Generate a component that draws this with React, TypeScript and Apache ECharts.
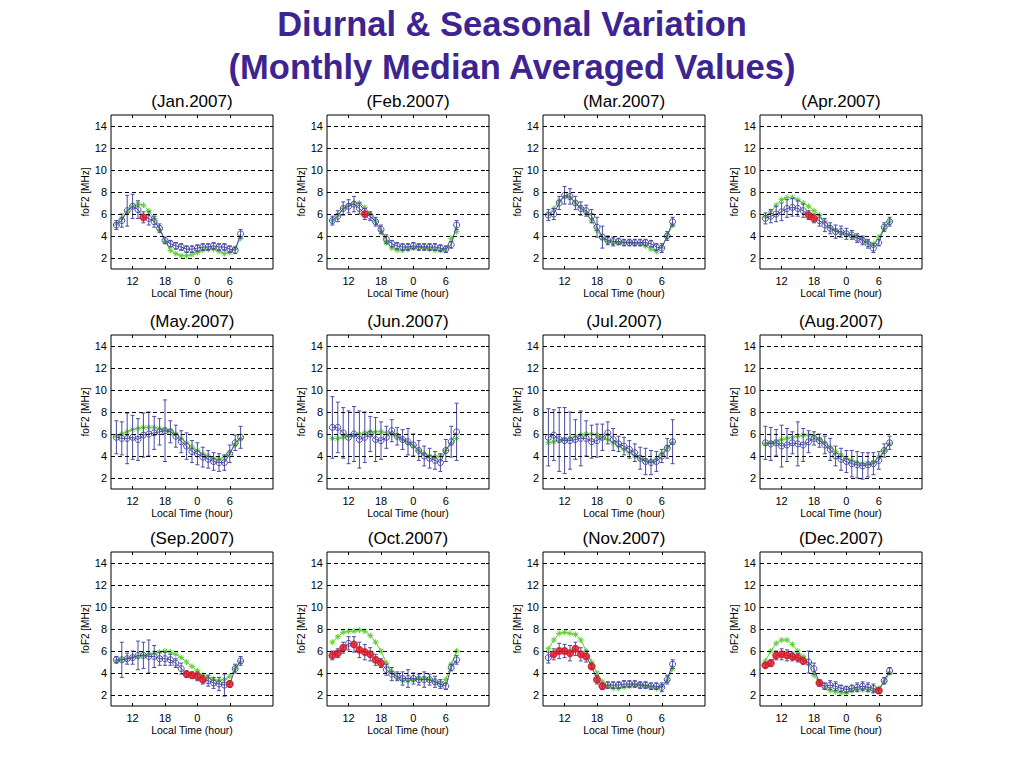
import React, { useEffect, useRef } from "react";
import * as echarts from "echarts";

// Hours (local time, continuing past midnight as 24..32)
const HOURS = [9, 10, 11, 12, 13, 14, 15, 16, 17, 18, 19, 20, 21, 22, 23, 24, 25, 26, 27, 28, 29, 30, 31, 32];
const X_TICKS = [12, 18, 24, 30];
const Y_TICKS = [2, 4, 6, 8, 10, 12, 14];
const MAIN_TITLE_1 = "Diurnal & Seasonal Variation";
const MAIN_TITLE_2 = "(Monthly Median Averaged Values)";
const PANEL_TITLES = [
  "(Jan.2007)", "(Feb.2007)", "(Mar.2007)", "(Apr.2007)",
  "(May.2007)", "(Jun.2007)", "(Jul.2007)", "(Aug.2007)",
  "(Sep.2007)", "(Oct.2007)", "(Nov.2007)", "(Dec.2007)",
];

// Observed monthly medians (foF2, MHz)
const JAN_OBS = [5.0, 5.4, 6.3, 6.7, 6.4, 5.7, 5.6, 5.3, 4.7, 3.6, 3.3, 3.1, 3.0, 2.8, 2.8, 2.9, 3.0, 3.0, 3.1, 3.0, 3.0, 2.8, 2.7, 4.2];
const FEB_OBS = [5.4, 5.8, 6.5, 6.7, 6.9, 6.5, 6.0, 5.8, 5.3, 4.6, 3.7, 3.3, 3.1, 3.0, 3.0, 3.1, 3.0, 3.0, 3.0, 3.0, 2.9, 2.8, 3.2, 5.0];
const MAR_OBS = [5.9, 6.0, 7.0, 7.7, 7.6, 7.0, 6.5, 6.3, 5.8, 4.8, 3.9, 3.6, 3.5, 3.5, 3.4, 3.4, 3.4, 3.4, 3.4, 3.3, 3.0, 2.9, 4.0, 5.3];
const APR_OBS = [5.6, 5.8, 6.0, 6.2, 6.5, 6.6, 6.5, 6.3, 5.9, 5.6, 5.4, 5.0, 4.7, 4.4, 4.4, 4.2, 4.1, 3.8, 3.6, 3.3, 2.9, 3.4, 4.8, 5.3];
const MAY_OBS = [5.7, 5.6, 5.6, 5.7, 5.5, 5.9, 6.0, 6.1, 6.2, 6.3, 6.2, 5.8, 5.3, 4.9, 4.4, 4.2, 3.9, 3.7, 3.5, 3.4, 3.4, 4.2, 5.2, 5.7];
const JUN_OBS = [6.6, 6.6, 6.1, 5.7, 6.0, 5.5, 5.7, 6.0, 5.5, 5.4, 5.7, 6.3, 5.8, 5.5, 5.3, 5.0, 4.5, 4.0, 3.8, 3.6, 3.4, 4.5, 5.3, 6.2];
const JUL_OBS = [5.7, 5.9, 5.5, 5.4, 5.4, 5.5, 5.6, 5.6, 5.3, 5.4, 5.7, 6.1, 5.5, 5.1, 4.9, 4.6, 4.3, 3.8, 3.5, 3.4, 3.5, 4.0, 4.7, 5.3];
const AUG_OBS = [5.2, 5.1, 5.2, 4.9, 5.0, 5.2, 5.1, 5.0, 5.3, 5.6, 5.4, 5.0, 4.6, 4.0, 3.7, 3.5, 3.3, 3.2, 3.1, 3.2, 3.3, 3.6, 4.5, 5.2];
const SEP_OBS = [5.2, 5.2, 5.3, 5.4, 5.6, 5.6, 5.5, 5.5, 5.3, 5.3, 5.2, 4.9, 4.4, 3.9, 3.8, 3.7, 3.4, 3.3, 3.1, 3.0, 2.9, 3.0, 4.4, 5.1];
const OCT_OBS = [5.6, 5.8, 6.3, 6.7, 6.6, 6.1, 5.9, 5.7, 5.2, 4.9, 4.3, 3.9, 3.7, 3.5, 3.5, 3.5, 3.4, 3.4, 3.4, 3.2, 3.0, 2.8, 4.5, 5.2];
const NOV_OBS = [5.4, 5.7, 6.0, 6.0, 5.8, 6.2, 5.7, 5.5, 4.6, 3.4, 2.8, 2.9, 2.9, 2.9, 3.0, 3.0, 3.0, 2.9, 2.9, 2.8, 2.8, 2.7, 3.4, 4.8];
const DEC_OBS = [4.7, 4.9, 5.6, 5.7, 5.6, 5.5, 5.4, 5.1, 5.0, 4.4, 3.1, 2.8, 2.9, 2.8, 2.6, 2.5, 2.6, 2.7, 2.8, 2.7, 2.6, 2.4, 3.3, 4.2];

// Half-length of error bars
const JAN_ERR = [0.4, 0.6, 1.4, 1.1, 0.8, 0.5, 0.6, 0.5, 0.4, 0.3, 0.3, 0.3, 0.3, 0.3, 0.3, 0.3, 0.3, 0.3, 0.3, 0.3, 0.3, 0.3, 0.3, 0.4];
const FEB_ERR = [0.4, 0.5, 0.6, 0.6, 0.7, 0.5, 0.5, 0.4, 0.4, 0.4, 0.4, 0.3, 0.3, 0.3, 0.3, 0.3, 0.3, 0.3, 0.3, 0.3, 0.3, 0.3, 0.3, 0.4];
const MAR_ERR = [0.5, 0.5, 0.6, 0.8, 0.7, 0.6, 0.6, 0.5, 0.6, 0.9, 1.0, 0.4, 0.4, 0.3, 0.3, 0.3, 0.3, 0.3, 0.3, 0.3, 0.3, 0.4, 0.4, 0.4];
const APR_ERR = [0.5, 0.6, 0.7, 0.8, 0.8, 0.8, 0.7, 0.6, 0.4, 0.4, 0.5, 0.6, 0.5, 0.6, 0.5, 0.5, 0.4, 0.4, 0.4, 0.4, 0.4, 0.3, 0.4, 0.4];
const MAY_ERR = [1.5, 1.5, 2.3, 2.0, 1.9, 2.0, 2.0, 1.5, 1.2, 2.8, 1.0, 1.0, 1.0, 1.2, 1.0, 1.0, 0.9, 0.8, 0.8, 0.8, 0.7, 0.8, 0.7, 1.0];
const JUN_ERR = [2.8, 2.3, 2.3, 2.4, 2.5, 2.6, 2.3, 1.6, 2.0, 1.7, 1.0, 1.0, 0.8, 0.9, 1.2, 1.0, 0.9, 0.9, 0.9, 0.8, 0.8, 1.0, 1.4, 2.6];
const JUL_ERR = [2.6, 2.3, 2.9, 3.0, 2.6, 1.8, 2.5, 1.6, 1.5, 1.5, 1.2, 1.0, 1.0, 0.7, 0.8, 0.8, 0.8, 1.0, 1.2, 1.1, 0.9, 0.6, 0.9, 2.0];
const AUG_ERR = [1.5, 1.5, 1.2, 1.9, 1.5, 1.0, 2.0, 1.5, 1.0, 0.6, 0.6, 0.8, 1.0, 0.9, 1.0, 1.0, 1.2, 1.2, 1.2, 1.1, 1.0, 0.8, 0.6, 0.6];
const SEP_ERR = [0.3, 1.6, 0.5, 0.6, 1.3, 1.2, 1.5, 1.0, 0.6, 0.6, 0.5, 0.4, 0.5, 0.3, 0.3, 0.4, 0.4, 0.5, 0.5, 0.6, 1.0, 0.3, 0.4, 0.4];
const OCT_ERR = [0.4, 0.4, 0.5, 0.6, 0.7, 0.7, 0.7, 0.6, 0.5, 0.4, 0.5, 0.6, 0.4, 0.6, 0.8, 0.5, 0.5, 0.7, 0.5, 0.5, 0.4, 0.3, 0.3, 0.4];
const NOV_ERR = [0.5, 0.5, 0.7, 0.6, 0.7, 0.6, 0.6, 0.5, 0.3, 0.4, 0.3, 0.3, 0.3, 0.3, 0.3, 0.3, 0.3, 0.3, 0.3, 0.3, 0.3, 0.4, 0.4, 0.4];
const DEC_ERR = [0.2, 0.3, 0.4, 0.5, 0.5, 0.4, 0.4, 0.3, 1.0, 0.5, 0.3, 0.3, 0.4, 0.4, 0.3, 0.3, 0.3, 0.4, 0.4, 0.4, 0.4, 0.2, 0.3, 0.3];

// Model values (green asterisks)
const JAN_MODEL = [5.1, 5.6, 6.2, 6.7, 6.9, 6.8, 6.3, 5.6, 4.6, 3.5, 2.7, 2.4, 2.2, 2.2, 2.3, 2.5, 2.7, 2.8, 2.8, 2.6, 2.4, 2.5, 2.9, 3.8];
const FEB_MODEL = [5.4, 5.9, 6.5, 6.8, 7.0, 7.0, 6.6, 6.0, 5.3, 4.4, 3.4, 2.9, 2.7, 2.7, 2.8, 2.9, 3.0, 2.9, 2.8, 2.7, 2.7, 2.8, 3.8, 4.4];
const MAR_MODEL = [6.0, 6.5, 7.2, 7.6, 7.5, 7.0, 6.6, 6.1, 5.4, 4.5, 3.8, 3.5, 3.4, 3.4, 3.4, 3.4, 3.3, 3.3, 3.1, 2.8, 2.6, 3.0, 4.0, 5.0];
const APR_MODEL = [5.8, 6.2, 6.8, 7.3, 7.5, 7.5, 7.3, 7.0, 6.7, 6.3, 5.9, 5.3, 4.8, 4.5, 4.3, 4.1, 4.0, 3.9, 3.7, 3.4, 3.3, 3.9, 4.7, 5.3];
const MAY_MODEL = [5.8, 6.0, 6.2, 6.4, 6.5, 6.6, 6.6, 6.6, 6.5, 6.4, 6.3, 6.0, 5.6, 5.2, 4.8, 4.5, 4.2, 4.0, 3.8, 3.7, 3.9, 4.3, 5.0, 5.6];
const JUN_MODEL = [5.6, 5.6, 5.7, 5.8, 5.9, 6.0, 6.1, 6.2, 6.2, 6.2, 6.1, 6.0, 5.8, 5.5, 5.2, 4.9, 4.5, 4.2, 4.0, 3.9, 4.0, 4.5, 5.1, 5.6];
const JUL_MODEL = [5.2, 5.3, 5.4, 5.5, 5.6, 5.8, 5.9, 6.0, 6.0, 5.9, 5.7, 5.5, 5.2, 4.9, 4.6, 4.3, 4.0, 3.8, 3.6, 3.5, 3.7, 4.2, 4.8, 5.2];
const AUG_MODEL = [5.1, 5.2, 5.3, 5.5, 5.6, 5.7, 5.8, 5.9, 5.9, 5.8, 5.5, 5.2, 4.8, 4.4, 4.1, 3.8, 3.6, 3.4, 3.3, 3.3, 3.4, 3.9, 4.5, 5.1];
const SEP_MODEL = [5.1, 5.2, 5.3, 5.4, 5.5, 5.6, 5.7, 5.8, 5.9, 6.0, 5.9, 5.7, 5.4, 5.0, 4.6, 4.2, 3.8, 3.6, 3.4, 3.3, 3.4, 3.7, 4.4, 5.0];
const OCT_MODEL = [6.8, 7.3, 7.7, 7.8, 7.8, 7.9, 7.8, 7.4, 6.8, 6.0, 4.9, 4.1, 3.6, 3.3, 3.3, 3.4, 3.5, 3.5, 3.4, 3.2, 3.0, 3.4, 4.8, 6.0];
const NOV_MODEL = [6.2, 7.0, 7.6, 7.7, 7.6, 7.5, 7.0, 6.0, 5.0, 4.0, 3.2, 2.8, 2.6, 2.6, 2.7, 2.8, 2.9, 2.9, 2.8, 2.7, 2.6, 2.8, 3.3, 4.4];
const DEC_MODEL = [5.1, 6.0, 6.7, 7.0, 7.0, 6.6, 6.0, 5.5, 4.8, 3.8, 3.1, 2.7, 2.4, 2.3, 2.2, 2.2, 2.4, 2.5, 2.5, 2.5, 2.4, 2.6, 3.2, 4.0];

// Hours whose medians are highlighted in red
const JAN_RED = [14];
const FEB_RED = [15];
const MAR_RED: number[] = [];
const APR_RED = [17, 18];
const MAY_RED: number[] = [];
const JUN_RED: number[] = [];
const JUL_RED: number[] = [];
const AUG_RED: number[] = [];
const SEP_RED = [22, 23, 24, 25, 30];
const OCT_RED = [9, 10, 11, 13, 14, 15, 16, 17, 18];
const NOV_RED = [10, 11, 12, 13, 14, 15, 16, 17, 18, 19];
const DEC_RED = [9, 10, 11, 12, 13, 14, 15, 16, 19, 30];

const PANELS = [
  { obs: JAN_OBS, err: JAN_ERR, model: JAN_MODEL, red: JAN_RED },
  { obs: FEB_OBS, err: FEB_ERR, model: FEB_MODEL, red: FEB_RED },
  { obs: MAR_OBS, err: MAR_ERR, model: MAR_MODEL, red: MAR_RED },
  { obs: APR_OBS, err: APR_ERR, model: APR_MODEL, red: APR_RED },
  { obs: MAY_OBS, err: MAY_ERR, model: MAY_MODEL, red: MAY_RED },
  { obs: JUN_OBS, err: JUN_ERR, model: JUN_MODEL, red: JUN_RED },
  { obs: JUL_OBS, err: JUL_ERR, model: JUL_MODEL, red: JUL_RED },
  { obs: AUG_OBS, err: AUG_ERR, model: AUG_MODEL, red: AUG_RED },
  { obs: SEP_OBS, err: SEP_ERR, model: SEP_MODEL, red: SEP_RED },
  { obs: OCT_OBS, err: OCT_ERR, model: OCT_MODEL, red: OCT_RED },
  { obs: NOV_OBS, err: NOV_ERR, model: NOV_MODEL, red: NOV_RED },
  { obs: DEC_OBS, err: DEC_ERR, model: DEC_MODEL, red: DEC_RED },
];

// Layout
const COL_LEFT = [111, 327, 543, 760];
const ROW_TOP = [115, 335, 552];
const BOX_W = 162;
const BOX_H = 154;
const FONT = "'Liberation Sans', Arial, Helvetica, sans-serif";
const BLUE = "#4a4aa6";
const GREEN = "#5fcf35";
const RED = "#e3161d";
const TITLE_COLOR = "#3e2490";
const ASTERISK = "path://M5,0L5,10M0,5L10,5M1.5,1.5L8.5,8.5M1.5,8.5L8.5,1.5";

function buildOption(): any {
  const grid: any[] = [];
  const xAxis: any[] = [];
  const yAxis: any[] = [];
  const series: any[] = [];
  const graphic: any[] = [
    {
      type: "text", x: 512, y: 24,
      style: { text: MAIN_TITLE_1, fontFamily: FONT, fontSize: 34.5, fontWeight: "bold", fill: TITLE_COLOR, align: "center", verticalAlign: "middle", textAlign: "center", textVerticalAlign: "middle" },
    },
    {
      type: "text", x: 512, y: 67,
      style: { text: MAIN_TITLE_2, fontFamily: FONT, fontSize: 34.5, fontWeight: "bold", fill: TITLE_COLOR, align: "center", verticalAlign: "middle", textAlign: "center", textVerticalAlign: "middle" },
    },
  ];

  PANELS.forEach((p, i) => {
    const c = i % 4;
    const r = Math.floor(i / 4);
    grid.push({
      left: COL_LEFT[c], top: ROW_TOP[r], width: BOX_W, height: BOX_H,
      show: true, borderColor: "#000", borderWidth: 1, backgroundColor: "#fff",
    });
    graphic.push({
      type: "text", x: COL_LEFT[c] + BOX_W / 2, y: ROW_TOP[r] - 14,
      style: { text: PANEL_TITLES[i], fontFamily: FONT, fontSize: 17, fontWeight: "normal", fill: "#000", align: "center", verticalAlign: "middle", textAlign: "center", textVerticalAlign: "middle" },
    });
    xAxis.push({
      type: "value", gridIndex: i, min: 8, max: 38, position: "bottom",
      axisLine: { show: false },
      axisTick: { inside: true, length: 3, customValues: X_TICKS, lineStyle: { color: "#000" } },
      axisLabel: { customValues: X_TICKS, formatter: (v: number) => String(v % 24), fontSize: 11, color: "#000", margin: 6, fontFamily: FONT },
      splitLine: { show: false },
      name: "Local Time (hour)", nameLocation: "middle", nameGap: 18,
      nameTextStyle: { fontSize: 10.5, color: "#000", fontFamily: FONT },
    });
    xAxis.push({
      type: "value", gridIndex: i, min: 8, max: 38, position: "top",
      axisLine: { show: false },
      axisTick: { inside: true, length: 3, customValues: X_TICKS, lineStyle: { color: "#000" } },
      axisLabel: { show: false },
      splitLine: { show: false },
    });
    yAxis.push({
      type: "value", gridIndex: i, min: 1, max: 15, position: "left",
      axisLine: { show: false },
      axisTick: { inside: true, length: 3, customValues: Y_TICKS, lineStyle: { color: "#000" } },
      axisLabel: { customValues: Y_TICKS, fontSize: 11, color: "#000", margin: 4, fontFamily: FONT },
      splitLine: { show: false },
      name: "foF2 [MHz]", nameLocation: "middle", nameGap: 20, nameRotate: 90,
      nameTextStyle: { fontSize: 10, color: "#000", fontFamily: FONT },
    });
    yAxis.push({
      type: "value", gridIndex: i, min: 1, max: 15, position: "right",
      axisLine: { show: false },
      axisTick: { inside: true, length: 3, customValues: Y_TICKS, lineStyle: { color: "#000" } },
      axisLabel: { show: false },
      splitLine: { show: false },
    });

    const xi = 2 * i;
    const yi = 2 * i;

    // Model curve with dashed grid lines as markLine
    series.push({
      type: "line", xAxisIndex: xi, yAxisIndex: yi,
      data: HOURS.map((h, k) => [h, p.model[k]]),
      symbol: ASTERISK, symbolSize: 6,
      itemStyle: { color: "transparent", borderColor: GREEN, borderWidth: 1 },
      lineStyle: { color: GREEN, width: 1 },
      markLine: {
        silent: true, symbol: ["none", "none"], label: { show: false },
        lineStyle: { color: "#000", width: 1, type: [4, 3] },
        data: Y_TICKS.map((v) => ({ yAxis: v })),
      },
      z: 2,
    });

    // Error bars
    series.push({
      type: "custom", xAxisIndex: xi, yAxisIndex: yi,
      data: HOURS.map((h, k) => [h, p.obs[k], p.err[k]]),
      encode: { x: 0, y: 1 },
      renderItem: (_params: any, api: any) => {
        const x = api.value(0);
        const y = api.value(1);
        const e = api.value(2);
        const lo = api.coord([x, y - e]);
        const hi = api.coord([x, y + e]);
        const hw = 2;
        const st = { stroke: BLUE, lineWidth: 1 };
        return {
          type: "group",
          children: [
            { type: "line", shape: { x1: lo[0], y1: lo[1], x2: hi[0], y2: hi[1] }, style: st },
            { type: "line", shape: { x1: lo[0] - hw, y1: lo[1], x2: lo[0] + hw, y2: lo[1] }, style: st },
            { type: "line", shape: { x1: hi[0] - hw, y1: hi[1], x2: hi[0] + hw, y2: hi[1] }, style: st },
          ],
        };
      },
      z: 3,
    });

    // Observed medians
    series.push({
      type: "line", xAxisIndex: xi, yAxisIndex: yi,
      data: HOURS.map((h, k) => [h, p.obs[k]]),
      symbol: "circle", symbolSize: 6,
      itemStyle: { color: "transparent", borderColor: BLUE, borderWidth: 1 },
      lineStyle: { color: BLUE, width: 1 },
      z: 4,
    });

    // Highlighted points
    series.push({
      type: "scatter", xAxisIndex: xi, yAxisIndex: yi,
      data: p.red.map((h) => [h, p.obs[HOURS.indexOf(h)]]),
      symbol: "circle", symbolSize: 8,
      itemStyle: { color: RED },
      z: 5,
    });
  });

  return { animation: false, backgroundColor: "#fff", grid, xAxis, yAxis, series, graphic };
}

export default function App() {
  const ref = useRef<HTMLDivElement>(null);
  useEffect(() => {
    if (!ref.current) return;
    const chart = echarts.init(ref.current, undefined, { renderer: "svg" });
    chart.setOption(buildOption());
    return () => chart.dispose();
  }, []);
  return (
    <div
      ref={ref}
      style={{ position: "absolute", left: 0, top: 0, width: 1024, height: 768, background: "#fff" }}
    />
  );
}
